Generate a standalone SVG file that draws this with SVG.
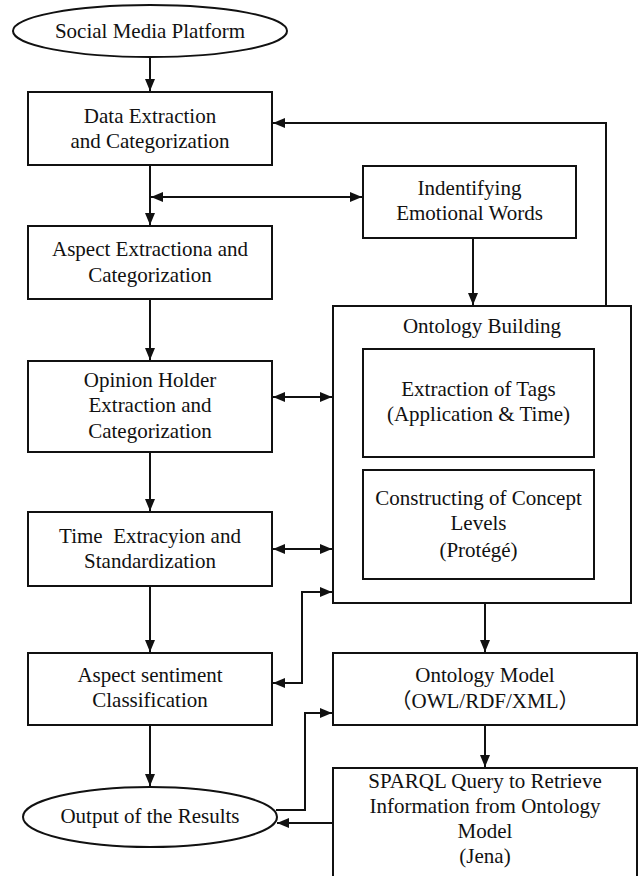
<svg xmlns="http://www.w3.org/2000/svg" width="638" height="876" viewBox="0 0 638 876">
<style>
.box{fill:#fff;stroke:#111;stroke-width:2}
.t{font-family:"Liberation Serif","Times New Roman",serif;font-size:21px;fill:#111;text-anchor:middle}
.c{fill:none;stroke:#111;stroke-width:2}
</style>
<defs>
<marker id="ah" viewBox="0 0 12 10" refX="12" refY="5" markerWidth="12" markerHeight="10" orient="auto-start-reverse" markerUnits="userSpaceOnUse"><path d="M0,0 L12,5 L0,10 z" fill="#111"/></marker>
</defs>
<rect width="638" height="876" fill="#fff"/>
<g id="connectors">
<line class="c" x1="150" y1="57" x2="150" y2="91" marker-end="url(#ah)"/>
<polyline class="c" points="606,306 606,123 273,123" marker-end="url(#ah)"/>
<line class="c" x1="150" y1="165" x2="150" y2="225" marker-end="url(#ah)"/>
<line class="c" x1="151" y1="197" x2="362" y2="197" marker-start="url(#ah)" marker-end="url(#ah)"/>
<line class="c" x1="473" y1="238" x2="473" y2="305" marker-end="url(#ah)"/>
<line class="c" x1="150" y1="299" x2="150" y2="360" marker-end="url(#ah)"/>
<line class="c" x1="273" y1="397" x2="332" y2="397" marker-start="url(#ah)" marker-end="url(#ah)"/>
<line class="c" x1="150" y1="452" x2="150" y2="511" marker-end="url(#ah)"/>
<line class="c" x1="273" y1="549" x2="332" y2="549" marker-start="url(#ah)" marker-end="url(#ah)"/>
<line class="c" x1="150" y1="586" x2="150" y2="652" marker-end="url(#ah)"/>
<polyline class="c" points="273,683 302,683 302,592 332,592" marker-start="url(#ah)" marker-end="url(#ah)"/>
<line class="c" x1="485" y1="603" x2="485" y2="652" marker-end="url(#ah)"/>
<line class="c" x1="150" y1="725" x2="150" y2="786" marker-end="url(#ah)"/>
<polyline class="c" points="276,810 305,810 305,713 332,713" marker-end="url(#ah)"/>
<line class="c" x1="485" y1="725" x2="485" y2="767" marker-end="url(#ah)"/>
<line class="c" x1="332" y1="823" x2="277" y2="823" marker-end="url(#ah)"/>
</g>
<g id="social">
<ellipse class="box" cx="150" cy="31" rx="137" ry="26"/>
<text class="t" x="150" y="38">Social Media Platform</text>
</g>
<g id="data">
<rect class="box" x="28" y="92" width="244" height="73"/>
<text class="t" x="150" y="123">Data Extraction</text>
<text class="t" x="150" y="148">and Categorization</text>
</g>
<g id="emotional">
<rect class="box" x="363" y="166" width="213" height="72"/>
<text class="t" x="469.5" y="195">Indentifying</text>
<text class="t" x="469.5" y="220">Emotional Words</text>
</g>
<g id="aspect">
<rect class="box" x="28" y="226" width="244" height="73"/>
<text class="t" x="150" y="256">Aspect Extractiona and</text>
<text class="t" x="150" y="282">Categorization</text>
</g>
<g id="ontology">
<rect class="box" x="333" y="306" width="298" height="297"/>
<text class="t" x="482" y="333">Ontology Building</text>
</g>
<g id="tags">
<rect class="box" x="363" y="349" width="231" height="108"/>
<text class="t" x="478.5" y="396">Extraction of Tags</text>
<text class="t" x="478.5" y="421">(Application &amp; Time)</text>
</g>
<g id="concept">
<rect class="box" x="363" y="470" width="231" height="109"/>
<text class="t" x="478.5" y="505">Constructing of Concept</text>
<text class="t" x="478.5" y="530">Levels</text>
<text class="t" x="478.5" y="557">(Protégé)</text>
</g>
<g id="opinion">
<rect class="box" x="28" y="361" width="244" height="91"/>
<text class="t" x="150" y="387">Opinion Holder</text>
<text class="t" x="150" y="412">Extraction and</text>
<text class="t" x="150" y="438">Categorization</text>
</g>
<g id="time">
<rect class="box" x="28" y="512" width="244" height="74"/>
<text class="t" x="150" y="543" xml:space="preserve">Time  Extracyion and</text>
<text class="t" x="150" y="568">Standardization</text>
</g>
<g id="sentiment">
<rect class="box" x="28" y="653" width="244" height="72"/>
<text class="t" x="150" y="682">Aspect sentiment</text>
<text class="t" x="150" y="707">Classification</text>
</g>
<g id="model">
<rect class="box" x="333" y="653" width="304" height="72"/>
<text class="t" x="485" y="682">Ontology Model</text>
<text class="t" x="485" y="708" style="font-family:'Liberation Serif','Noto Sans CJK SC',serif">（OWL/RDF/XML）</text>
</g>
<g id="sparql">
<rect class="box" x="333" y="768" width="304" height="120"/>
<text class="t" x="485" y="788">SPARQL Query to Retrieve</text>
<text class="t" x="485" y="813">Information from Ontology</text>
<text class="t" x="485" y="838">Model</text>
<text class="t" x="485" y="863">(Jena)</text>
</g>
<g id="output">
<ellipse class="box" cx="150" cy="817" rx="127" ry="30"/>
<text class="t" x="150" y="823">Output of the Results</text>
</g>
</svg>
